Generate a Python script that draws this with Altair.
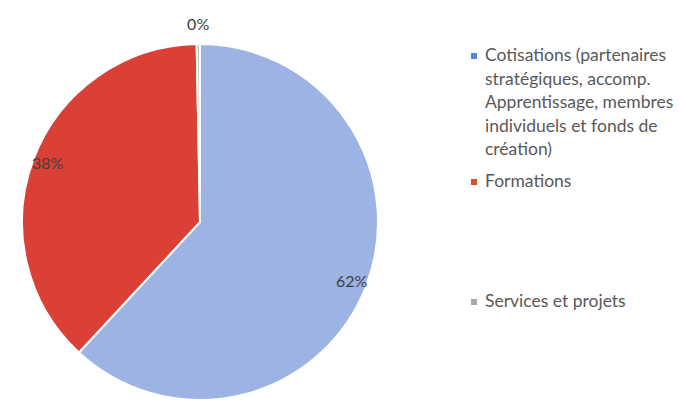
import altair as alt
import pandas as pd

# Data
categories = [
    "Cotisations (partenaires stratégiques, accomp. Apprentissage, membres individuels et fonds de création)",
    "Formations",
    "Services et projets",
]
values = [61.9, 37.8, 0.3]
pct_labels = ["62%", "38%", "0%"]
legend_labels = [
    "Cotisations (partenaires\nstratégiques, accomp.\nApprentissage, membres\nindividuels et fonds de\ncréation)",
    "Formations",
    "Services et projets",
]
colors = ["#9cb3e4", "#db4036", "#bdbdbd"]
legend_colors = ["#5b82d0", "#e0502f", "#a9a9a9"]

df = pd.DataFrame({
    "cat": categories,
    "value": values,
    "label": pct_labels,
    "order": [0, 1, 2],
})

CX, CY, R = 200, 222, 178

base = alt.Chart(df).encode(
    theta=alt.Theta("value:Q", stack=True),
    order=alt.Order("order:Q"),
)

pie = base.mark_arc(radius=R, stroke="white", strokeWidth=2).encode(
    color=alt.Color("cat:N", scale=alt.Scale(domain=categories, range=colors), legend=None),
    x=alt.value(CX),
    y=alt.value(CY),
)

text_in = base.mark_text(fontSize=16, font="Lato", color="#404040", radius=163).encode(
    text="label:N",
    x=alt.value(CX),
    y=alt.value(CY),
    opacity=alt.condition("datum.value >= 1", alt.value(1), alt.value(0)),
)
text_out = base.mark_text(fontSize=16, font="Lato", color="#404040", radius=197).encode(
    text="label:N",
    x=alt.value(CX),
    y=alt.value(CY),
    opacity=alt.condition("datum.value < 1", alt.value(1), alt.value(0)),
)

layers = [pie, text_in, text_out]

legend_top = [56, 182, 302]
for lab, col, yy in zip(legend_labels, legend_colors, legend_top):
    ldf = pd.DataFrame({"t": [lab]})
    sq = alt.Chart(ldf).mark_square(size=36, color=col, opacity=1).encode(
        x=alt.value(474), y=alt.value(yy)
    )
    tx = alt.Chart(ldf).mark_text(
        align="left", baseline="middle", fontSize=17.5, font="Lato",
        color="#595959", lineBreak="\n", lineHeight=23.5,
    ).encode(
        text="t:N", x=alt.value(485), y=alt.value(yy)
    )
    layers += [sq, tx]

chart = alt.layer(*layers).properties(
    width=680, height=401, padding=0, autosize=alt.AutoSizeParams(type="none")
).configure_view(stroke=None)

chart.save("out.html", embed_options={"renderer": "svg", "actions": False})
